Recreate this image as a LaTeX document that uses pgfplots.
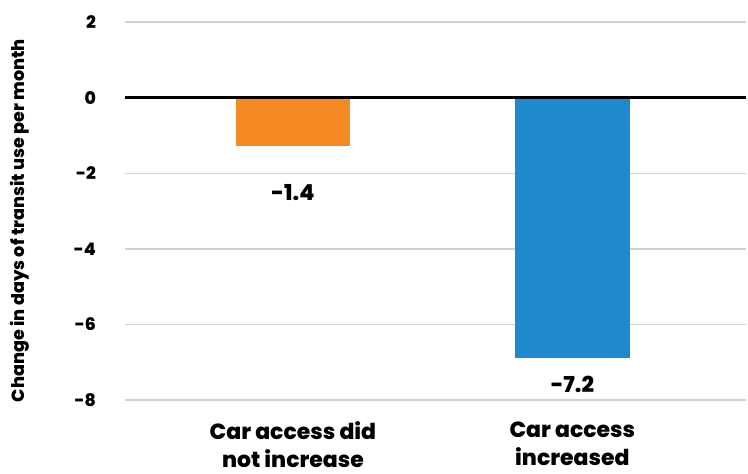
\documentclass[border=0pt]{standalone}
\usepackage{pgfplots}
\pgfplotsset{compat=1.18}
\usepackage{fontspec}
\setmainfont{Poppins}[BoldFont={Poppins ExtraBold}]
\definecolor{barorange}{RGB}{245,137,34}
\definecolor{barblue}{RGB}{30,137,204}
\definecolor{gridgrey}{RGB}{210,210,210}
\begin{document}
\begin{tikzpicture}
\begin{axis}[
  scale only axis,
  width=467.25pt, height=284.25pt,
  xmin=-0.602, xmax=1.623,
  ymin=-8, ymax=2,
  ytick={-8,-6,-4,-2,0,2},
  yticklabels={-8,-6,-4,-2,0,2},
  xtick={0,1},
  xticklabels={Car access did\\not increase, Car access\\increased},
  axis line style={draw=none},
  major tick length=0pt,
  ymajorgrids,
  grid style={gridgrey, line width=1.1pt},
  yticklabel style={font=\fontsize{13}{14}\selectfont\bfseries, inner sep=0pt, xshift=-21.5pt},
  xticklabel style={font=\fontsize{16.5}{21}\selectfont\bfseries, align=center, inner sep=0pt, anchor=north, yshift=-16pt},
  ybar, bar width=86.25pt,
  clip=false,
]
\addplot[ybar, bar shift=0pt, fill=barorange, draw=none] coordinates {(0,-1.27)};
\addplot[ybar, bar shift=0pt, fill=barblue, draw=none] coordinates {(1,-6.88)};
\addplot[sharp plot, black, line width=2.3pt, forget plot] coordinates {(-0.602,0) (1.623,0)};
\node[font=\fontsize{16.5}{18}\selectfont\bfseries] at (axis cs:0,-2.52) {-1.4};
\node[font=\fontsize{16.5}{18}\selectfont\bfseries] at (axis cs:1,-7.59) {-7.2};
\node[rotate=90, font=\fontsize{13.2}{15}\selectfont\bfseries] at ([xshift=-78.75pt]rel axis cs:0,0.475) {Change in days of transit use per month};
\end{axis}
\useasboundingbox ([shift={(-93.75pt,-54.75pt)}]current axis.south west) rectangle ([shift={(0pt,16.5pt)}]current axis.north east);
\end{tikzpicture}
\end{document}
